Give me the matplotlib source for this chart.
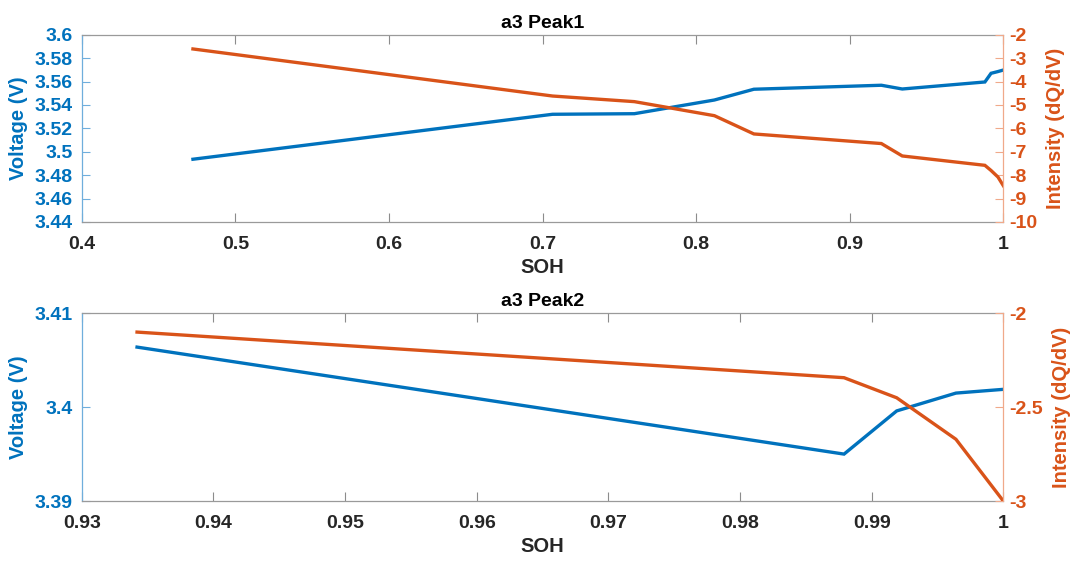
import matplotlib
matplotlib.use("Agg")
import matplotlib.pyplot as plt
from matplotlib.ticker import FuncFormatter, MultipleLocator
import numpy as np

# ---- data ----
soh1 = [0.4724, 0.7065, 0.7598, 0.8119, 0.8376, 0.9206, 0.9342, 0.9880, 0.9920, 0.9965, 1.0]
volt1 = [3.4936, 3.5320, 3.5325, 3.5442, 3.5534, 3.5568, 3.5536, 3.5596, 3.5670, 3.5685, 3.5698]
inten1 = [-2.61, -4.62, -4.86, -5.46, -6.24, -6.65, -7.18, -7.58, -7.80, -8.08, -8.45]

soh2 = [0.9342, 0.9879, 0.9919, 0.9964, 1.0]
volt2 = [3.4064, 3.3950, 3.3996, 3.4015, 3.4019]
inten2 = [-2.10, -2.343, -2.450, -2.671, -3.0]

titles = ["a3 Peak1", "a3 Peak2"]
xlabel = "SOH"
ylabel_l = "Voltage (V)"
ylabel_r = "Intensity (dQ/dV)"

plt.rcParams['font.family'] = ['Liberation Sans', 'DejaVu Sans']
plt.rcParams['font.weight'] = 'bold'

BLUE = '#0072BD'
ORANGE = '#D95319'
BLUE_SP = '#6FAEDC'
ORANGE_SP = '#F0A98A'
GRAY = '#262626'
BOX = '#9a9a9a'

fmt = FuncFormatter(lambda v, p: ('%g' % round(v, 6)))

fig = plt.figure(figsize=(10.77, 5.62), dpi=100)

TICK_FS = 14
LAB_FS = 14.5
TITLE_FS = 14

def make(pos, x, v, i, xlim, ylim_l, ylim_r, xstep, ylstep, yrstep, title):
    ax = fig.add_axes(pos)
    ax2 = ax.twinx()
    ax.plot(x, v, color=BLUE, lw=2.4, solid_joinstyle='miter')
    ax2.plot(x, i, color=ORANGE, lw=2.4, solid_joinstyle='miter')
    ax.set_xlim(*xlim)
    ax.set_ylim(*ylim_l)
    ax2.set_ylim(*ylim_r)
    ax.xaxis.set_major_locator(MultipleLocator(xstep))
    ax.yaxis.set_major_locator(MultipleLocator(ylstep))
    ax2.yaxis.set_major_locator(MultipleLocator(yrstep))
    for a in (ax, ax2):
        a.xaxis.set_major_formatter(fmt)
        a.yaxis.set_major_formatter(fmt)
    ax.tick_params(axis='x', direction='in', top=True, bottom=True, length=6.5,
                   width=0.8, color='#8c8c8c', labelcolor=GRAY, labelsize=TICK_FS, pad=10)
    ax.tick_params(axis='y', direction='in', left=True, right=False, length=6,
                   width=0.8, color=BLUE_SP, labelcolor=BLUE, labelsize=TICK_FS, pad=6.5)
    ax2.tick_params(axis='y', direction='in', right=True, left=False, length=6,
                    width=0.8, color=ORANGE_SP, labelcolor=ORANGE, labelsize=TICK_FS, pad=4.5)
    for lab in ax.get_xticklabels() + ax.get_yticklabels() + ax2.get_yticklabels():
        lab.set_fontweight('bold')
    ax.spines['left'].set_color(BLUE_SP)
    ax.spines['right'].set_visible(False)
    ax.spines['top'].set_color(BOX)
    ax.spines['bottom'].set_color(BOX)
    ax2.spines['right'].set_color(ORANGE_SP)
    ax2.spines['left'].set_visible(False)
    ax2.spines['top'].set_visible(False)
    ax2.spines['bottom'].set_visible(False)
    for s in ax.spines.values():
        s.set_linewidth(0.9)
    ax2.spines['right'].set_linewidth(0.9)
    ax.set_xlabel(xlabel, fontsize=LAB_FS, fontweight='bold', color=GRAY, labelpad=4)
    ax.set_ylabel(ylabel_l, fontsize=LAB_FS, fontweight='bold', color=BLUE, labelpad=4.5)
    ax2.set_ylabel(ylabel_r, fontsize=LAB_FS, fontweight='bold', color=ORANGE, labelpad=6)
    ax.set_title(title, fontsize=TITLE_FS, fontweight='bold', color='black', pad=5)
    return ax, ax2

make([0.0759, 0.6050, 0.8557, 0.3333], soh1, volt1, inten1,
     (0.4, 1.0), (3.44, 3.6), (-10, -2), 0.1, 0.02, 1, titles[0])
make([0.0759, 0.1085, 0.8557, 0.3340], soh2, volt2, inten2,
     (0.93, 1.0), (3.39, 3.41), (-3, -2), 0.01, 0.01, 0.5, titles[1])

fig.savefig("out.png", dpi=100)
